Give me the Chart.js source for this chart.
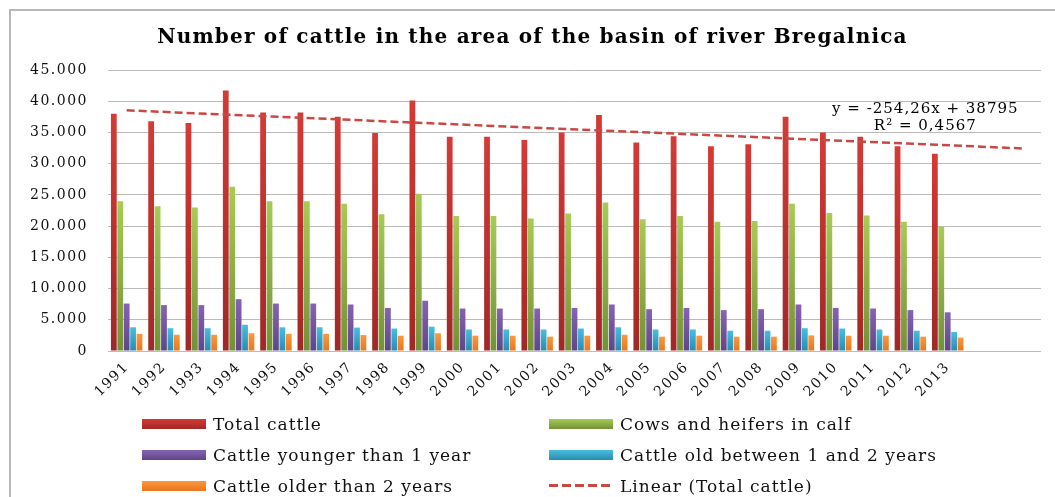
<!DOCTYPE html>
<html>
<head>
<meta charset="utf-8">
<script src="https://cdn.jsdelivr.net/npm/chart.js@4.4.0/dist/chart.umd.min.js"></script>
<style>
  body { margin: 0; background: #fff; overflow: hidden; }
  #wrap { position: relative; width: 1055px; height: 497px; }
  #frame { position: absolute; left: 9px; top: 9px; right: -5px; bottom: -5px;
           border-left: 2px solid #b8b8b8; border-top: 2px solid #b8b8b8; }
  #myChart { position: absolute; left: 0; top: 0; }
  #legend { position: absolute; left: 142px; top: 408px; display: grid;
            grid-template-columns: 407px auto; grid-auto-rows: 31px;
            font-family: "DejaVu Serif", serif; font-size: 17px; letter-spacing: 1px; color: #111; }
  .item { display: flex; align-items: center; }
  .sw { width: 64px; height: 10px; margin-right: 7px; }
</style>
</head>
<body>
<div id="wrap">
  <div id="frame"></div>
  <canvas id="myChart" width="1055" height="497"></canvas>
  <div id="legend"></div>
</div>
<script>
var ctx = document.getElementById('myChart').getContext('2d');

// data
const years = ['1991', '1992', '1993', '1994', '1995', '1996', '1997', '1998', '1999', '2000', '2001', '2002',
    '2003', '2004', '2005', '2006', '2007', '2008', '2009', '2010', '2011', '2012', '2013', '', ''];
const totalCattle = [38000, 36800, 36500, 41700, 38200, 38200, 37500, 34900, 40100, 34300, 34300, 33800,
    35000, 37800, 33400, 34400, 32800, 33100, 37500, 35000, 34300, 32800, 31600];
const cows = [24000, 23200, 23000, 26300, 24000, 24000, 23600, 21900, 25200, 21600, 21600, 21200,
    22000, 23800, 21100, 21600, 20700, 20800, 23600, 22100, 21700, 20700, 19900];
const younger = [7600, 7350, 7350, 8300, 7600, 7600, 7450, 6900, 8050, 6800, 6800, 6800,
    6900, 7450, 6700, 6900, 6550, 6700, 7450, 6900, 6800, 6550, 6200];
const between = [3800, 3650, 3650, 4200, 3800, 3800, 3750, 3600, 3900, 3450, 3450, 3450,
    3600, 3800, 3450, 3450, 3250, 3250, 3650, 3600, 3450, 3250, 3050];
const older = [2750, 2600, 2600, 2850, 2750, 2750, 2550, 2450, 2850, 2450, 2450, 2300,
    2450, 2600, 2300, 2450, 2300, 2300, 2500, 2450, 2450, 2300, 2150];
// linear trend, first and last point (x = 1 and x = 25)
const trendEnds = [38540, 32440];
const trendLine = years.map((y, i) => i === 0 ? trendEnds[0] : (i === years.length - 1 ? trendEnds[1] : null));

const chartTitle = 'Number of cattle in the area of the basin of river Bregalnica';
const trendText = ['y = -254,26x + 38795', 'R\u00b2 = 0,4567'];

const serif = '"DejaVu Serif", serif';

function barFill(top, bottom) {
    return function (c) {
        const area = c.chart.chartArea;
        const ys = c.chart.scales.y;
        if (!area || c.raw == null) return top;
        const g = c.chart.ctx.createLinearGradient(0, ys.getPixelForValue(c.raw), 0, ys.getPixelForValue(0));
        g.addColorStop(0, top);
        g.addColorStop(1, bottom);
        return g;
    };
}

const spacing = {
    id: 'spacing',
    beforeUpdate(chart) { chart.ctx.letterSpacing = '1.5px'; },
    beforeDraw(chart) { chart.ctx.letterSpacing = '1.5px'; }
};

const texts = {
    id: 'texts',
    afterDraw(chart) {
        const c = chart.ctx;
        const xs = chart.scales.x, ys = chart.scales.y;
        c.save();
        c.fillStyle = '#000';
        c.textAlign = 'center';
        c.textBaseline = 'middle';
        c.letterSpacing = '1.2px';
        c.font = 'bold 20px ' + serif;
        c.fillText(chartTitle, chart.width / 2 + 5, 38);
        c.letterSpacing = '1px';
        c.font = '15px ' + serif;
        const tx = xs.getPixelForValue(21.4);
        const ty = ys.getPixelForValue(38795);
        c.fillText(trendText[0], tx, ty);
        c.fillText(trendText[1], tx, ty + 17);
        c.restore();
    }
};

var myChart = new Chart(ctx, {
    type: 'bar',
    data: {
        labels: years,
        datasets: [{
            label: 'Total cattle',
            data: totalCattle,
            backgroundColor: barFill('rgb(214,58,52)', 'rgb(160,40,40)'),
            swatch: ['rgb(214,58,52)', 'rgb(160,40,40)'],
            order: 1
        },
        {
            label: 'Cows and heifers in calf',
            data: cows,
            backgroundColor: barFill('rgb(165,204,84)', 'rgb(115,145,55)'),
            swatch: ['rgb(165,204,84)', 'rgb(115,145,55)'],
            order: 1
        },
        {
            label: 'Cattle younger than 1 year',
            data: younger,
            backgroundColor: barFill('rgb(135,98,180)', 'rgb(95,70,135)'),
            swatch: ['rgb(135,98,180)', 'rgb(95,70,135)'],
            order: 1
        },
        {
            label: 'Cattle old between 1 and 2 years',
            data: between,
            backgroundColor: barFill('rgb(72,190,222)', 'rgb(40,140,175)'),
            swatch: ['rgb(72,190,222)', 'rgb(40,140,175)'],
            order: 1
        },
        {
            label: 'Cattle older than 2 years',
            data: older,
            backgroundColor: barFill('rgb(252,152,62)', 'rgb(232,118,30)'),
            swatch: ['rgb(252,152,62)', 'rgb(232,118,30)'],
            order: 1
        },
        {
            type: 'line',
            label: 'Linear (Total cattle)',
            data: trendLine,
            borderColor: 'rgb(200,72,68)',
            borderWidth: 2.5,
            borderDash: [8, 4],
            pointRadius: 0,
            spanGaps: true,
            fill: false,
            order: 0
        }]
    },
    options: {
        responsive: false,
        animation: false,
        categoryPercentage: 0.86,
        barPercentage: 0.9,
        layout: { padding: { top: 70, left: 27, right: 14, bottom: 0 } },
        plugins: {
            legend: { display: false },
            title: { display: false },
            tooltip: { enabled: false }
        },
        scales: {
            x: {
                grid: { display: false },
                border: { display: false },
                ticks: {
                    autoSkip: false,
                    maxRotation: 45,
                    minRotation: 45,
                    padding: 0,
                    color: '#111',
                    font: { family: serif, size: 14 }
                },
                afterFit(scale) { scale.height = 146; }
            },
            y: {
                min: 0,
                max: 45000,
                border: { display: false },
                grid: { color: '#bcbcbc', lineWidth: 1, drawTicks: false },
                ticks: {
                    stepSize: 5000,
                    padding: 20,
                    color: '#111',
                    font: { family: serif, size: 14 },
                    callback: function (v) {
                        if (v === 0) return '0';
                        return Math.floor(v / 1000) + '.' + String(v % 1000).padStart(3, '0');
                    }
                },
                afterFit(scale) { scale.width = 81; }
            }
        }
    },
    plugins: [spacing, texts]
});

// legend in two columns, built from the datasets
const legendBox = document.getElementById('legend');
myChart.data.datasets.forEach((ds) => {
    const item = document.createElement('div');
    item.className = 'item';
    const sw = document.createElement('span');
    sw.className = 'sw';
    if (ds.type === 'line') {
        sw.style.height = '3px';
        sw.style.background = 'repeating-linear-gradient(to right, ' + ds.borderColor + ' 0 9px, transparent 9px 13px)';
    } else {
        sw.style.background = 'linear-gradient(' + ds.swatch[0] + ', ' + ds.swatch[1] + ')';
    }
    const txt = document.createElement('span');
    txt.textContent = ds.label;
    item.appendChild(sw);
    item.appendChild(txt);
    legendBox.appendChild(item);
});
</script>
</body>
</html>
